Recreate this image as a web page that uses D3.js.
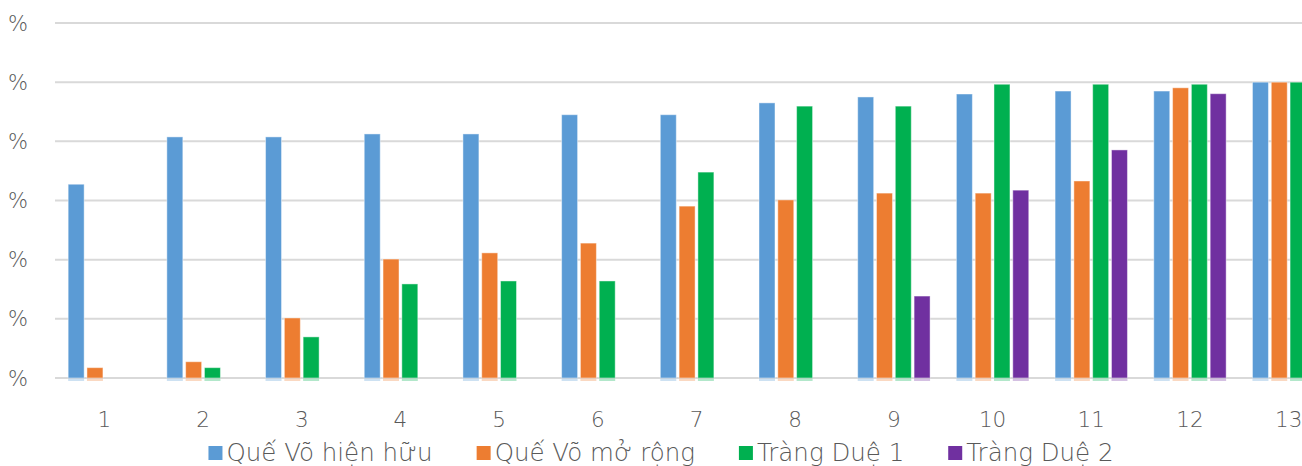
<!DOCTYPE html>
<html>
<head>
<meta charset="utf-8">
<script src="https://cdn.jsdelivr.net/npm/d3@7"></script>
<style>
  html, body { margin: 0; padding: 0; background: #fff; overflow: hidden; }
  text { font-family: "DejaVu Sans", sans-serif; fill: #595959; }
</style>
</head>
<body>
<svg id="chart" width="1302" height="466"></svg>
<script>
// categories along the x axis
var categories = ['1', '2', '3', '4', '5', '6', '7', '8', '9', '10', '11', '12', '13'];
var seriesNames = ['Quế Võ hiện hữu', 'Quế Võ mở rộng', 'Tràng Duệ 1', 'Tràng Duệ 2'];
var seriesColors = ['#5B9BD5', '#ED7D31', '#00B050', '#7030A0'];

// values in %, null where the bar is absent
var queVoHienHuu = [65.5, 81.5, 81.5, 82.5, 82.5, 89, 89, 93, 95, 96, 97, 97, 100];
var queVoMoRong  = [3.5, 5.5, 20.3, 40.2, 42.3, 45.6, 58.1, 60.2, 62.5, 62.5, 66.6, 98.1, 100];
var trangDue1    = [null, 3.5, 13.9, 31.8, 32.8, 32.8, 69.6, 91.9, 91.9, 99.3, 99.3, 99.3, 100];
var trangDue2    = [null, null, null, null, null, null, null, null, 27.7, 63.5, 77.1, 96.1, 100];

var yTicks = [0, 20, 40, 60, 80, 100, 120];

var series = [queVoHienHuu, queVoMoRong, trangDue1, trangDue2];

var svg = d3.select('#chart');

// plot area (right edge runs past the window, as in the picture)
var plotLeft = 55, plotRight = 1338, plotTop = 23, plotBottom = 378;

var x0 = d3.scaleBand()
  .domain(categories)
  .range([plotLeft, plotRight])
  .paddingInner(0.24)
  .paddingOuter(0.12);

var x1 = d3.scaleBand()
  .domain(d3.range(series.length))
  .range([0, x0.bandwidth()])
  .paddingInner(0.15)
  .paddingOuter(0.07);

var y = d3.scaleLinear()
  .domain([0, 120])
  .range([plotBottom, plotTop]);

// gridlines
svg.append('g')
  .selectAll('line')
  .data(yTicks)
  .enter().append('line')
    .attr('x1', 55)
    .attr('x2', 1302)
    .attr('y1', function (d) { return y(d); })
    .attr('y2', function (d) { return y(d); })
    .attr('stroke', '#d9d9d9')
    .attr('stroke-width', 2);

// y labels (only the % sign is visible)
svg.append('g')
  .selectAll('text')
  .data(yTicks)
  .enter().append('text')
    .attr('x', 28)
    .attr('y', function (d) { return y(d); })
    .attr('dy', '0.36em')
    .style('text-anchor', 'end')
    .style('font-size', '21px')
    .style('font-weight', 200)
    .text('%');

// bars
var bars = [];
series.forEach(function (vals, s) {
  vals.forEach(function (v, i) {
    if (v !== null) bars.push({ s: s, cat: categories[i], v: v });
  });
});

var g = svg.append('g');

g.selectAll('rect.stub')
  .data(bars)
  .enter().append('rect')
    .attr('class', 'stub')
    .attr('x', function (d) { return x0(d.cat) + x1(d.s); })
    .attr('y', plotBottom)
    .attr('width', x1.bandwidth())
    .attr('height', 3)
    .attr('fill', function (d) { return seriesColors[d.s]; })
    .attr('fill-opacity', 0.3);

g.selectAll('rect.bar')
  .data(bars)
  .enter().append('rect')
    .attr('class', 'bar')
    .attr('x', function (d) { return x0(d.cat) + x1(d.s); })
    .attr('y', function (d) { return y(d.v); })
    .attr('width', x1.bandwidth())
    .attr('height', function (d) { return plotBottom - y(d.v); })
    .attr('fill', function (d) { return seriesColors[d.s]; })
    .attr('stroke', '#fff')
    .attr('stroke-opacity', 0.45)
    .attr('stroke-width', 1);

// x labels
svg.append('g')
  .selectAll('text')
  .data(categories)
  .enter().append('text')
    .attr('x', function (d) { return x0(d) + x0.bandwidth() / 2; })
    .attr('y', 427)
    .style('text-anchor', 'middle')
    .style('font-size', '21.5px')
    .style('font-weight', 200)
    .text(function (d) { return d; });

// legend
var legend = svg.append('g');
var items = legend.selectAll('g')
  .data(seriesNames)
  .enter().append('g');

items.append('rect')
  .attr('width', 14)
  .attr('height', 14)
  .attr('y', 446)
  .attr('fill', function (d, i) { return seriesColors[i]; });

items.append('text')
  .attr('x', 18)
  .attr('y', 461)
  .style('font-size', '24.5px')
  .style('font-weight', 200)
  .text(function (d) { return d; });

var pos = 0, gap = 44, offsets = [];
items.each(function () {
  offsets.push(pos);
  pos += 18 + d3.select(this).select('text').node().getComputedTextLength() + gap;
});
var total = pos - gap;
var start = 661 - total / 2;
items.attr('transform', function (d, i) { return 'translate(' + (start + offsets[i]) + ',0)'; });
</script>
</body>
</html>
